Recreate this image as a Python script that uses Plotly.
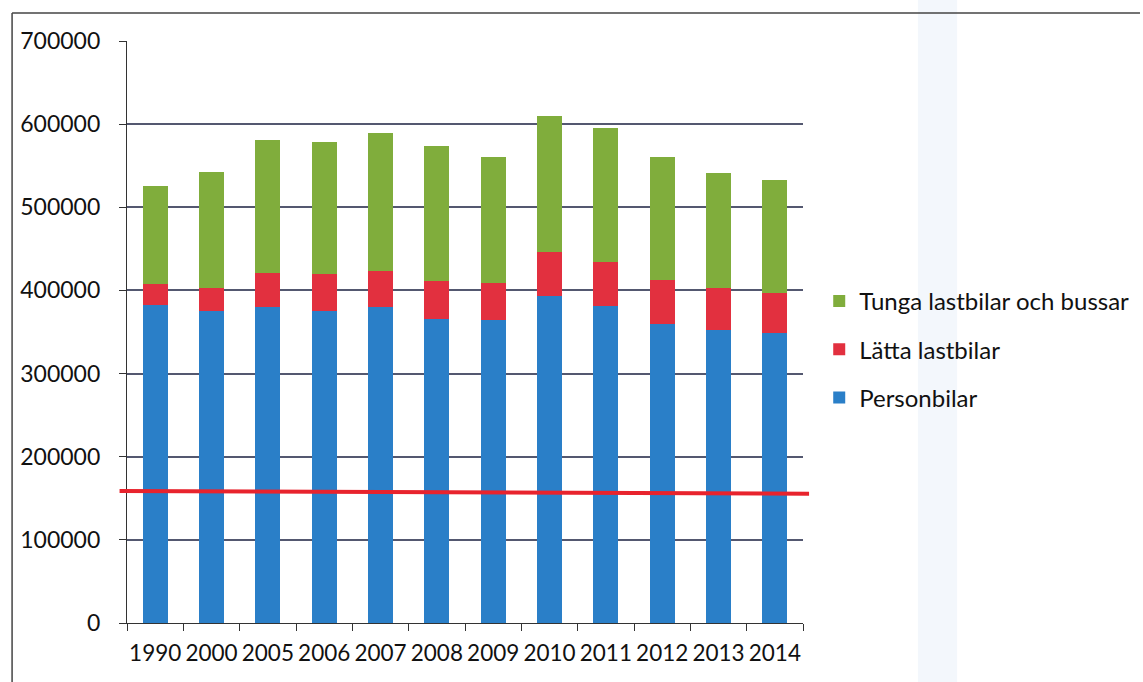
import plotly.graph_objects as go

years = ["1990", "2000", "2005", "2006", "2007", "2008", "2009", "2010", "2011", "2012", "2013", "2014"]
personbilar = [382900, 375200, 380500, 375200, 380000, 366100, 364100, 393700, 380900, 360100, 352100, 349300]
latta_totals = [408100, 403300, 421300, 419300, 423700, 411300, 409300, 446100, 433700, 412100, 403300, 396900]
totals = [526100, 542100, 581000, 578600, 589400, 573800, 561000, 609400, 595000, 560200, 541800, 533400]

latta = [l - p for l, p in zip(latta_totals, personbilar)]
tunga = [t - l for t, l in zip(totals, latta_totals)]

# reference level drawn across the chart (start / end value)
target_start = 158800
target_end = 155600

font_family = "Lato, Open Sans, sans-serif"
blue = "#2a7fc8"
red = "#e2303f"
green = "#80ad3c"
grid = "#545870"

fig = go.Figure()
fig.add_trace(go.Bar(x=years, y=personbilar, name="Personbilar", marker_color=blue,
                     marker_line_width=0, legendgroup="p", legendrank=3))
fig.add_trace(go.Bar(x=years, y=latta, name="Lätta lastbilar", marker_color=red,
                     marker_line_width=0, legendgroup="l", legendrank=2))
fig.add_trace(go.Bar(x=years, y=tunga, name="Tunga lastbilar och bussar", marker_color=green,
                     marker_line_width=0, legendgroup="t", legendrank=1))

# reference line
fig.add_shape(type="line", xref="x domain", yref="y", x0=-0.011, x1=1.009,
              y0=target_start, y1=target_end, line=dict(color="#e8232d", width=4), layer="above")

fig.update_layout(
    width=1143, height=682,
    paper_bgcolor="white", plot_bgcolor="white",
    barmode="stack", bargap=0.56,
    margin=dict(l=127, r=340, t=41, b=59, autoexpand=False),
    font=dict(family=font_family, size=23, color="#111111"),
    showlegend=True,
    legend=dict(x=1.024, y=0.47, xanchor="left", yanchor="middle",
                traceorder="grouped", tracegroupgap=14,
                font=dict(size=24, color="#111111"), itemwidth=30,
                bgcolor="rgba(0,0,0,0)"),
    xaxis=dict(type="category", showline=True, linecolor="#333333", linewidth=1.3,
               ticks="outside", ticklen=7, tickcolor="#333333", tickson="boundaries",
               ticklabelstandoff=10,
               tickangle=0, tickfont=dict(size=22.5), showgrid=False, fixedrange=True),
    yaxis=dict(range=[0, 700000], tickvals=[0, 100000, 200000, 300000, 400000, 500000, 600000, 700000],
               tickformat="d", showline=True, linecolor="#333333", linewidth=1.3,
               ticks="outside", ticklen=7, tickcolor="#333333", ticklabelstandoff=14,
               showgrid=True, gridcolor=grid, gridwidth=1.5, zeroline=False,
               tickfont=dict(size=23)),
)

# outer frame of the page and a faint vertical band
fig.add_shape(type="line", xref="paper", yref="paper", x0=-0.170, x1=1.4985, y0=1.048, y1=1.048,
              line=dict(color="#444444", width=1.5))
fig.add_shape(type="line", xref="paper", yref="paper", x0=-0.170, x1=-0.170, y0=1.048, y1=-0.11,
              line=dict(color="#444444", width=1.5))
fig.add_shape(type="rect", xref="paper", yref="paper", x0=1.170, x1=1.228, y0=1.08, y1=-0.11,
              line=dict(width=0), fillcolor="rgba(228,238,248,0.45)", layer="below")

fig.write_html("out.html")
